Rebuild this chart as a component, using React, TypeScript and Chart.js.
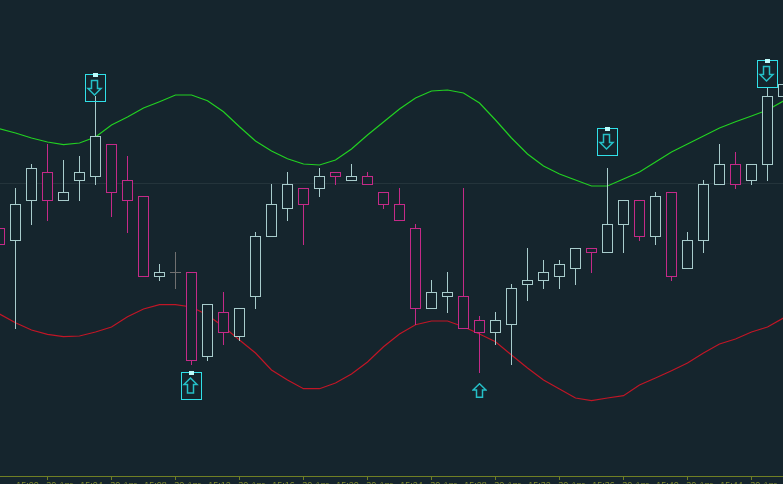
import React, { useEffect, useRef } from "react";
import { Chart, registerables } from "chart.js";

Chart.register(...registerables);

const BG = "#15252d";
const UP = "#a8cccc";
const DOWN = "#c42a88";
const DOJI = "#707070";
const CYAN = "#30e0e8";
const ARROW = "#25c0c8";
const AXIS = "#6f7f24";
const LABEL = "#7f8a2e";

const openP = [248, 236, 276, 304, 276, 296, 300, 332, 296, 280, 200, 204, 204, 120, 164, 140, 180, 240, 268, 288, 288, 304, 296, 300, 284, 272, 248, 168, 180, 180, 156, 144, 152, 192, 196, 200, 208, 228, 224, 252, 276, 240, 284, 208, 236, 292, 312, 296, 312, 380];
const closeP = [232, 272, 308, 276, 284, 304, 340, 284, 276, 200, 204, 204, 116, 172, 144, 168, 240, 272, 292, 272, 300, 300, 300, 292, 272, 256, 168, 184, 184, 148, 144, 156, 188, 196, 204, 212, 228, 224, 252, 276, 240, 280, 200, 236, 292, 312, 292, 312, 380, 392];
const highP = [248, 288, 312, 332, 316, 320, 380, 332, 320, 280, 212, 224, 204, 172, 184, 168, 244, 292, 304, 288, 308, 304, 312, 304, 284, 288, 252, 196, 204, 288, 160, 164, 192, 228, 216, 216, 228, 228, 308, 276, 276, 284, 284, 244, 296, 332, 324, 312, 388, 400];
const lowP = [232, 148, 252, 256, 276, 276, 292, 260, 244, 200, 196, 188, 112, 116, 132, 136, 168, 240, 256, 232, 280, 292, 296, 292, 268, 256, 152, 168, 164, 148, 104, 132, 112, 176, 188, 188, 192, 204, 224, 224, 236, 232, 196, 208, 224, 292, 288, 292, 296, 372];
const upperBand = [347.3, 343, 338, 334, 331.3, 333, 339, 351, 359, 368, 374.3, 381, 381, 375.3, 364.3, 349.3, 335, 325, 317.3, 312, 311, 316, 327, 341, 354, 367, 378, 385, 386, 383, 373, 356, 338, 322, 310, 302, 296, 290, 290, 297, 304, 314, 324, 332, 340, 348, 354.3, 360, 366, 375];
const lowerBand = [162, 153.3, 146, 141.7, 139.3, 140, 144, 149, 159.3, 167, 171.3, 171.3, 169, 161, 149.3, 136, 123, 106, 96, 87.3, 87.3, 93, 102, 114, 129.3, 142, 151.3, 155, 155, 149.3, 142, 134.3, 121, 108, 96, 87, 78, 75.3, 78, 80.3, 91, 98, 105.3, 113, 123, 132, 137, 144, 149, 158];
const tickCandles = [3, 7, 11, 15, 19, 23, 27, 31, 35, 39, 43, 47];
const tickLabels = ["15:00", "15:04", "15:08", "15:12", "15:16", "15:20", "15:24", "15:28", "15:32", "15:36", "15:40", "15:44"];
const tickDate = "30 Apr";
const sellSignals = [{ x: 6, y: 388.5 }, { x: 38, y: 334.5 }, { x: 48, y: 402.5 }];
const buySignals = [{ x: 12, y: 90.5 }];
const plainBuySignals = [{ x: 30, y: 85.5 }];
const referenceLevel = [292];

function arrowPath(ctx: CanvasRenderingContext2D, cx: number, tip: number, headY: number, tail: number) {
  ctx.beginPath();
  ctx.moveTo(cx, tip);
  ctx.lineTo(cx + 6.5, headY);
  ctx.lineTo(cx + 3, headY);
  ctx.lineTo(cx + 3, tail);
  ctx.lineTo(cx - 3, tail);
  ctx.lineTo(cx - 3, headY);
  ctx.lineTo(cx - 6.5, headY);
  ctx.closePath();
  ctx.strokeStyle = ARROW;
  ctx.lineWidth = 1.5;
  ctx.stroke();
}

function boxedMarker(kind: "up" | "down") {
  const c = document.createElement("canvas");
  c.width = 21;
  c.height = 29;
  const ctx = c.getContext("2d")!;
  ctx.strokeStyle = CYAN;
  ctx.lineWidth = 1;
  ctx.strokeRect(0.5, 1.5, 20, 27);
  ctx.fillStyle = "#bdfcfc";
  ctx.fillRect(8, 0, 5, 4);
  if (kind === "down") arrowPath(ctx, 9.5, 22, 15.5, 7.5);
  else arrowPath(ctx, 9.5, 7, 13.5, 22);
  return c;
}

function plainMarker() {
  const c = document.createElement("canvas");
  c.width = 15;
  c.height = 15;
  const ctx = c.getContext("2d")!;
  arrowPath(ctx, 7.5, 0.8, 7, 14.2);
  return c;
}

export default function App() {
  const ref = useRef<HTMLCanvasElement>(null);
  useEffect(() => {
    const xs = openP.map((_, i) => i);
    const colors = xs.map((i) => (openP[i] === closeP[i] ? DOJI : closeP[i] > openP[i] ? UP : DOWN));
    const chart = new Chart(ref.current!, {
      type: "bar",
      data: {
        datasets: [
          {
            type: "bar",
            label: "Body",
            order: 1,
            grouped: false,
            barThickness: 11,
            borderWidth: 1,
            borderSkipped: false,
            inflateAmount: 0,
            borderColor: colors,
            backgroundColor: xs.map(() => BG),
            data: xs.map((i) => ({ x: i, y: [Math.min(openP[i], closeP[i]) - 1, Math.max(openP[i], closeP[i])] })),
          },
          {
            type: "bar",
            label: "Wick",
            order: 2,
            grouped: false,
            barThickness: 1,
            borderWidth: 0,
            inflateAmount: 0,
            backgroundColor: colors,
            data: xs.map((i) => ({ x: i, y: [lowP[i] - 1, highP[i]] })),
          },
          {
            type: "line",
            label: "Upper",
            order: 3,
            borderColor: "#22d022",
            borderWidth: 1.2,
            pointRadius: 0,
            tension: 0,
            data: xs.map((i) => ({ x: i, y: upperBand[i] })),
          },
          {
            type: "line",
            label: "Lower",
            order: 3,
            borderColor: "#c01626",
            borderWidth: 1.2,
            pointRadius: 0,
            tension: 0,
            data: xs.map((i) => ({ x: i, y: lowerBand[i] })),
          },
          { type: "scatter", label: "Sell", order: 0, pointStyle: boxedMarker("down"), pointRadius: 10, data: sellSignals },
          { type: "scatter", label: "Buy", order: 0, pointStyle: boxedMarker("up"), pointRadius: 10, data: buySignals },
          { type: "scatter", label: "Buy plain", order: 0, pointStyle: plainMarker(), pointRadius: 7, data: plainBuySignals },
        ] as any,
      },
      options: {
        animation: false,
        responsive: false,
        layout: { padding: 0, autoPadding: false },
        plugins: { legend: { display: false }, tooltip: { enabled: false } },
        scales: {
          x: {
            type: "linear",
            position: "bottom",
            min: 0.5 / 16,
            max: 783.5 / 16,
            offset: false,
            afterBuildTicks: (s: any) => {
              s.ticks = tickCandles.map((value) => ({ value }));
            },
            afterFit: (s: any) => {
              s.height = 8;
              s.paddingLeft = 0;
              s.paddingRight = 0;
            },
            grid: { offset: false, drawOnChartArea: false, drawTicks: true, tickLength: 4, tickColor: AXIS, tickWidth: 1 },
            border: { display: true, color: AXIS, width: 1 },
            ticks: {
              autoSkip: false,
              maxRotation: 0,
              minRotation: 0,
              padding: 0,
              labelOffset: -3,
              color: LABEL,
              font: { family: "'Liberation Sans'", size: 9 },
              callback: (v: any) => {
                const i = tickCandles.indexOf(v);
                return i >= 0 ? `${tickLabels[i]}   ${tickDate}` : "";
              },
            },
          },
          y: {
            type: "linear",
            position: "left",
            min: 0,
            max: 476,
            afterBuildTicks: (s: any) => {
              s.ticks = referenceLevel.map((value) => ({ value }));
            },
            afterFit: (s: any) => {
              s.width = 0;
              s.paddingTop = 0;
              s.paddingBottom = 0;
            },
            grid: { color: "#24343b", drawTicks: false, lineWidth: 1 },
            border: { display: false },
            ticks: { display: false },
          },
        },
      } as any,
    });
    return () => chart.destroy();
  }, []);
  return (
    <div style={{ position: "fixed", left: 0, top: 0, width: 783, height: 484, background: BG, overflow: "hidden" }}>
      <canvas ref={ref} width={783} height={484} style={{ display: "block" }} />
    </div>
  );
}
